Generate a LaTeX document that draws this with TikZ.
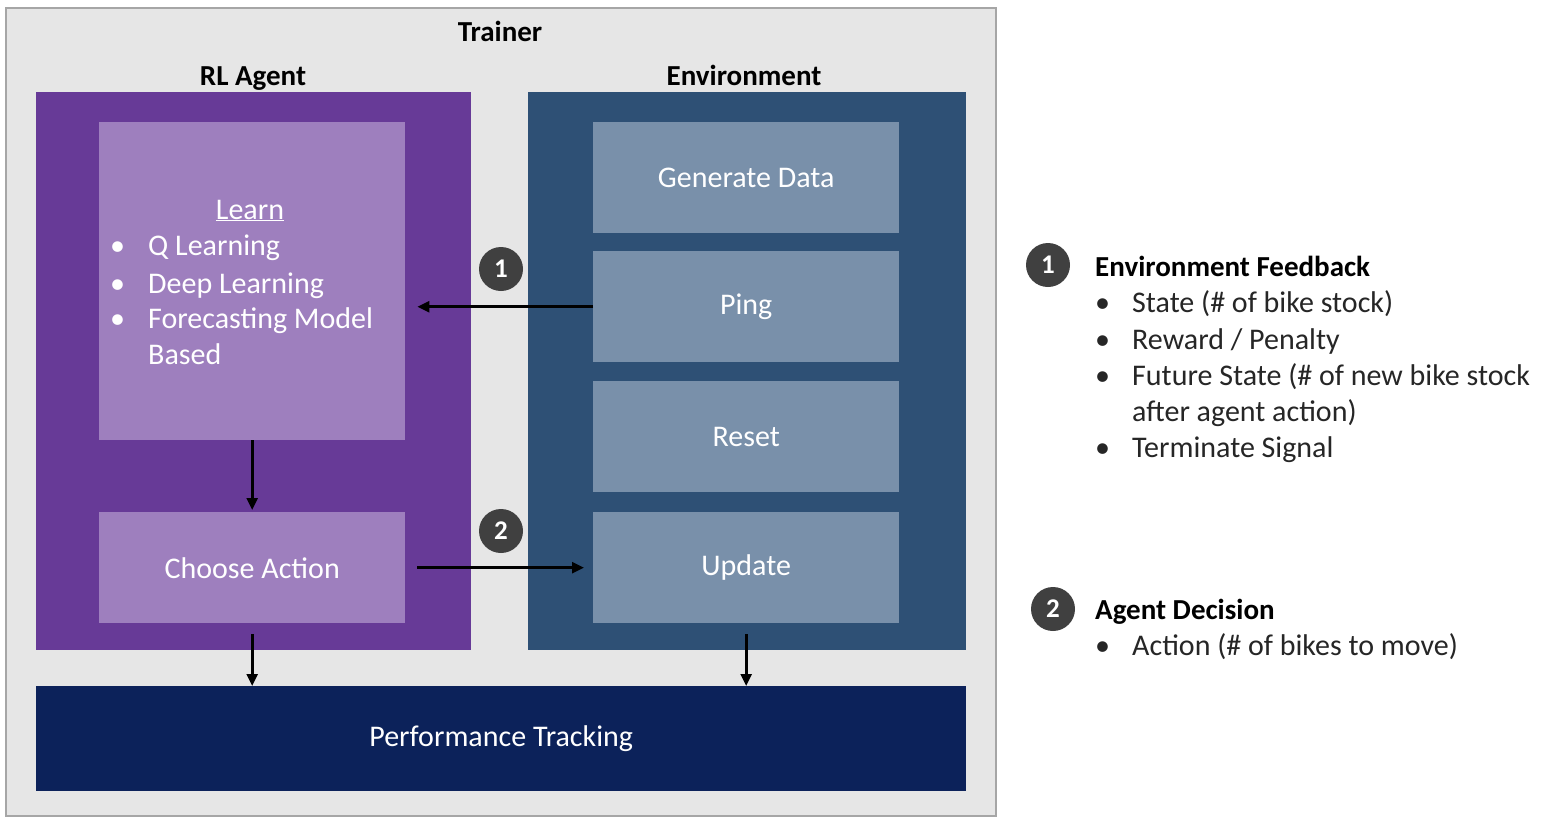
\documentclass[tikz,border=0pt]{standalone}
\usepackage{fontspec}
\setmainfont{Carlito}
\usetikzlibrary{arrows.meta}
\definecolor{trainerbg}{HTML}{E6E6E6}
\definecolor{trainerline}{HTML}{A6A6A6}
\definecolor{agentbg}{HTML}{673A97}
\definecolor{agentin}{HTML}{9E7FBE}
\definecolor{envbg}{HTML}{2E5075}
\definecolor{envin}{HTML}{7990AA}
\definecolor{perfbg}{HTML}{0C225A}
\definecolor{badge}{HTML}{404040}
\tikzset{
  txt/.style={font=\fontsize{30}{36}\selectfont},
  ttl/.style={font=\fontsize{29}{34}\selectfont\bfseries, text=black, inner sep=0, anchor=base},
  inbox/.style={draw=none, minimum width=306, minimum height=111, inner sep=0, text=white, font=\fontsize{30}{36}\selectfont},
  agentinbox/.style={inbox, fill=agentin},
  envinbox/.style={inbox, fill=envin},
  badgenode/.style={circle, fill=badge, minimum size=44, inner sep=0, text=white, font=\fontsize{27}{30}\selectfont\bfseries},
  conn/.style={line width=2.6pt, -{Triangle[length=12pt,width=11pt]}},
  wtxt/.style={txt, text=white, inner sep=0, anchor=base west},
  btxt/.style={txt, text=black!85, inner sep=0, anchor=base west},
}
\begin{document}
\begin{tikzpicture}[x=1pt,y=-1pt]
\useasboundingbox (0,0) rectangle (1541,830);
\fill[white] (0,0) rectangle (1541,830);
% trainer
\node[draw=trainerline, line width=1.5pt, fill=trainerbg, minimum width=990, minimum height=808, inner sep=0, anchor=north west] (trainer) at (5,7) {};
\node[ttl] (trainerlbl) at (500,41) {Trainer};
\node[ttl] (agentlbl) at (253,85) {RL Agent};
\node[ttl] (envlbl) at (744,85) {Environment};
% agent
\node[fill=agentbg, minimum width=435, minimum height=558, inner sep=0, anchor=north west] (agent) at (36,92) {};
\node[agentinbox, minimum height=318, anchor=north west] (learn) at (99,122) {};
\node[agentinbox, anchor=north west] (choose) at (99,512) {Choose Action};
% environment
\node[fill=envbg, minimum width=438, minimum height=558, inner sep=0, anchor=north west] (env) at (528,92) {};
\node[envinbox, anchor=north west] (gen) at (593,122) {Generate Data};
\node[envinbox, anchor=north west] (ping) at (593,251) {Ping};
\node[envinbox, anchor=north west] (reset) at (593,381) {Reset};
\node[envinbox, anchor=north west] (update) at (593,512) {Update};
% performance
\node[fill=perfbg, minimum width=930, minimum height=105, inner sep=0, anchor=north west, text=white, font=\fontsize{30}{36}\selectfont] (perf) at (36,686) {Performance Tracking};
% learn content
\node[txt, text=white, inner sep=0, anchor=base] (learnttl) at (250,219) {\underline{Learn}};
\node[wtxt] (lb1) at (110,255) {•};
\node[wtxt] (lt1) at (148,255) {Q Learning};
\node[wtxt] (lb2) at (110,293) {•};
\node[wtxt] (lt2) at (148,293) {Deep Learning};
\node[wtxt] (lb3) at (110,328) {•};
\node[wtxt] (lt3) at (148,328) {Forecasting Model};
\node[wtxt] (lt4) at (148,364) {Based};
% badges
\node[badgenode] (b1) at (501,269) {1};
\node[badgenode] (b2) at (501,531) {2};
% connectors
\draw[conn, shorten >=12pt] (ping.west) -- (learn.east |- ping.west);
\draw[conn, shorten <=12pt, shorten >=9pt] (choose.east) -- (update.west);
\draw[conn, shorten >=2pt] (learn.south) -- (choose.north);
\draw[conn, shorten <=11pt] (choose.south) -- (choose.south |- perf.north);
\draw[conn, shorten <=11pt] (update.south) -- (update.south |- perf.north);
% legend
\node[badgenode] (lb1badge) at (1048,265) {1};
\node[ttl, anchor=base west] (fbttl) at (1095,276) {Environment Feedback};
\node[btxt] (fb1b) at (1095,312) {•};
\node[btxt] (fb1) at (1132,312) {State (\# of bike stock)};
\node[btxt] (fb2b) at (1095,349) {•};
\node[btxt] (fb2) at (1132,349) {Reward / Penalty};
\node[btxt] (fb3b) at (1095,385) {•};
\node[btxt] (fb3) at (1132,385) {Future State (\# of new bike stock};
\node[btxt] (fb3c) at (1132,421) {after agent action)};
\node[btxt] (fb4b) at (1095,457) {•};
\node[btxt] (fb4) at (1132,457) {Terminate Signal};
\node[badgenode] (lb2badge) at (1053,609) {2};
\node[ttl, anchor=base west] (adttl) at (1095,619) {Agent Decision};
\node[btxt] (ad1b) at (1095,655) {•};
\node[btxt] (ad1) at (1132,655) {Action (\# of bikes to move)};
\end{tikzpicture}
\end{document}
